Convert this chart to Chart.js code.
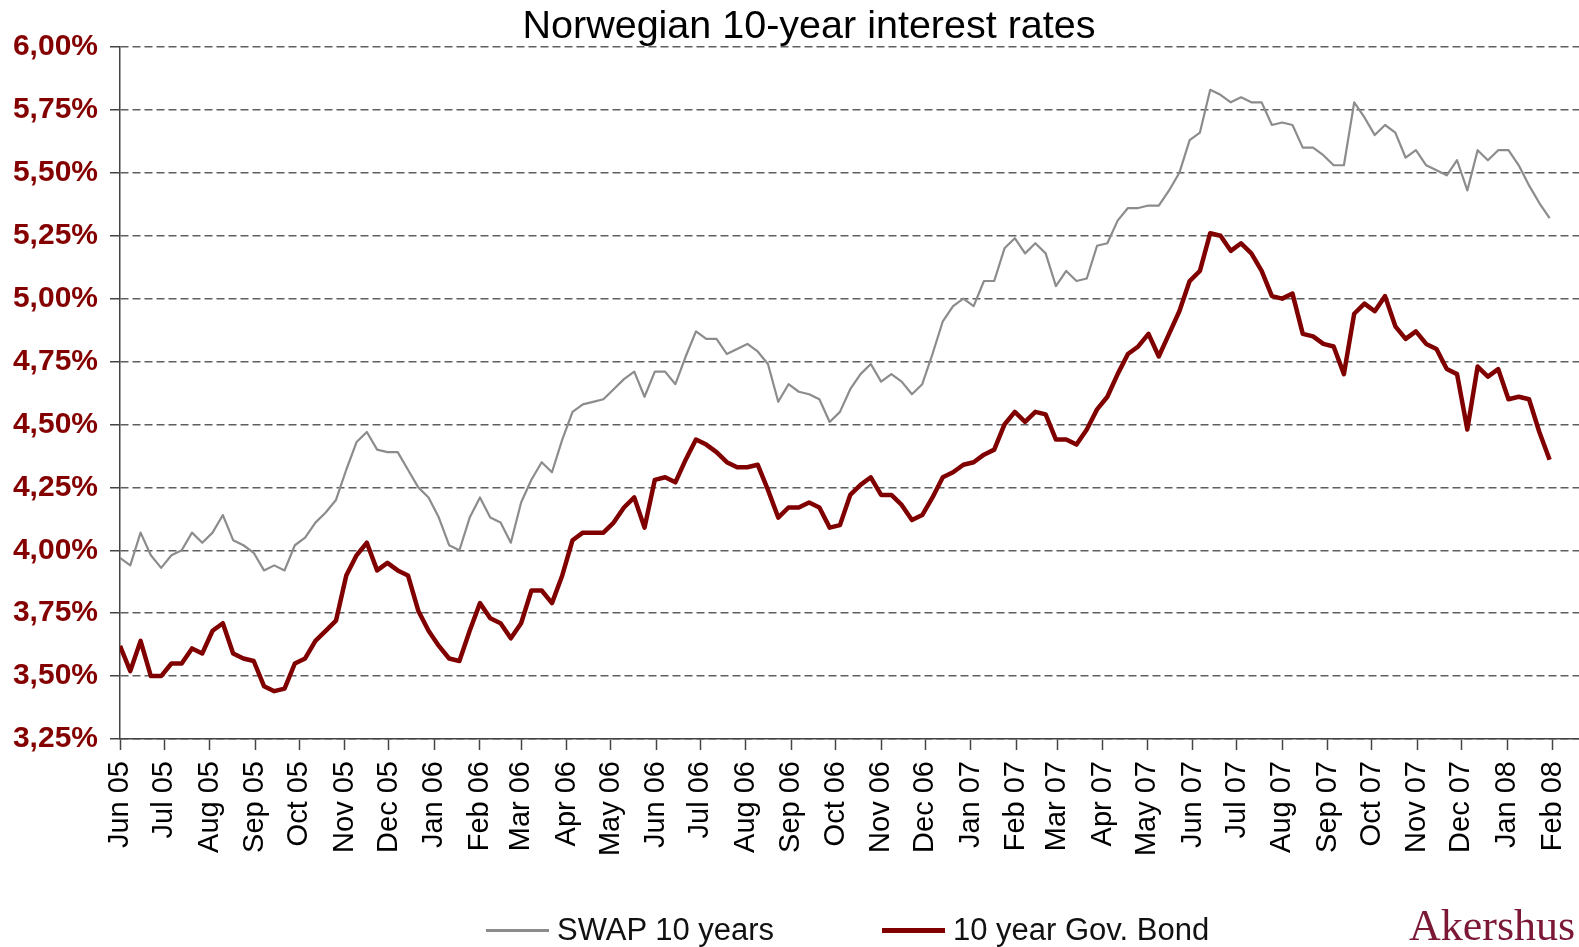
<!DOCTYPE html>
<html>
<head>
<meta charset="utf-8">
<title>Norwegian 10-year interest rates</title>
<script src="https://cdn.jsdelivr.net/npm/chart.js@4.4.1/dist/chart.umd.min.js"></script>
<style>
  body { margin: 0; background: #fff; font-family: 'Liberation Sans', Arial, sans-serif; }
  #wrap { position: relative; width: 1579px; height: 947px; overflow: hidden; }
  #chartBox { position: absolute; left: 0; top: 0; width: 1579px; height: 947px; }
  #title { position: absolute; top: 2px; left: 0; width: 1618px; text-align: center; font-size: 39.5px; color: #000; white-space: nowrap; }
  .leg { position: absolute; top: 912px; display: flex; align-items: center; font-size: 31px; color: #111; white-space: nowrap; }
  .leg .swatch { display: inline-block; width: 63px; margin-right: 8px; }
  #brand { position: absolute; left: 1409px; top: 900px; font-family: 'Liberation Serif', 'Times New Roman', serif; font-size: 44px; color: #7a1836; white-space: nowrap; }
</style>
</head>
<body>
<div id="wrap">
  <div id="chartBox"><canvas id="ratesChart"></canvas></div>
  <div id="title">Norwegian 10-year interest rates</div>
  <div class="leg" style="left:486px"><span class="swatch" style="height:3px;background:#8c8c8c"></span>SWAP 10 years</div>
  <div class="leg" style="left:882px"><span class="swatch" style="height:5px;background:#800000"></span>10 year Gov. Bond</div>
  <div id="brand">Akershus</div>
</div>
<script>
// ======================
// Dados (semanal, a partir de 1 jun 2005)
// ======================
const startDate = Date.UTC(2005, 5, 1);
const stepDays = 7;

const monthLabels = [
  'Jun 05', 'Jul 05', 'Aug 05', 'Sep 05', 'Oct 05', 'Nov 05', 'Dec 05',
  'Jan 06', 'Feb 06', 'Mar 06', 'Apr 06', 'May 06', 'Jun 06', 'Jul 06', 'Aug 06',
  'Sep 06', 'Oct 06', 'Nov 06', 'Dec 06',
  'Jan 07', 'Feb 07', 'Mar 07', 'Apr 07', 'May 07', 'Jun 07', 'Jul 07', 'Aug 07',
  'Sep 07', 'Oct 07', 'Nov 07', 'Dec 07',
  'Jan 08', 'Feb 08'
];

const swapRates = [
  3.97, 3.94, 4.07, 3.98, 3.93, 3.98, 4.00, 4.07, 4.03, 4.07, 4.14, 4.04, 4.02, 3.99, 3.92, 3.94, 3.92, 4.02, 4.05, 4.11, 4.15, 4.20, 4.32, 4.43,
  4.47, 4.40, 4.39, 4.39, 4.32, 4.25, 4.21, 4.13, 4.02, 4.00, 4.13, 4.21, 4.13, 4.11, 4.03, 4.19, 4.28, 4.35, 4.31, 4.44, 4.55, 4.58, 4.59,
  4.60, 4.64, 4.68, 4.71, 4.61, 4.71, 4.71, 4.66, 4.77, 4.87, 4.84, 4.84, 4.78, 4.80, 4.82, 4.79, 4.74, 4.59, 4.66, 4.63, 4.62, 4.60, 4.51, 4.55,
  4.64, 4.70, 4.74, 4.67, 4.70, 4.67, 4.62, 4.66, 4.78, 4.91, 4.97, 5.00, 4.97, 5.07, 5.07, 5.20, 5.24, 5.18, 5.22, 5.18, 5.05, 5.11, 5.07,
  5.08, 5.21, 5.22, 5.31, 5.36, 5.36, 5.37, 5.37, 5.43, 5.50, 5.63, 5.66, 5.83, 5.81, 5.78, 5.80, 5.78, 5.78, 5.69, 5.70, 5.69, 5.60, 5.60,
  5.57, 5.53, 5.53, 5.78, 5.72, 5.65, 5.69, 5.66, 5.56, 5.59, 5.53, 5.51, 5.49, 5.55, 5.43, 5.59, 5.55, 5.59, 5.59, 5.53, 5.45, 5.38, 5.32
];

const bondRates = [
  3.62, 3.52, 3.64, 3.50, 3.50, 3.55, 3.55, 3.61, 3.59, 3.68, 3.71, 3.59, 3.57, 3.56, 3.46, 3.44, 3.45, 3.55, 3.57, 3.64, 3.68, 3.72, 3.90, 3.98,
  4.03, 3.92, 3.95, 3.92, 3.90, 3.76, 3.68, 3.62, 3.57, 3.56, 3.68, 3.79, 3.73, 3.71, 3.65, 3.71, 3.84, 3.84, 3.79, 3.90, 4.04, 4.07, 4.07,
  4.07, 4.11, 4.17, 4.21, 4.09, 4.28, 4.29, 4.27, 4.36, 4.44, 4.42, 4.39, 4.35, 4.33, 4.33, 4.34, 4.24, 4.13, 4.17, 4.17, 4.19, 4.17, 4.09, 4.10,
  4.22, 4.26, 4.29, 4.22, 4.22, 4.18, 4.12, 4.14, 4.21, 4.29, 4.31, 4.34, 4.35, 4.38, 4.40, 4.50, 4.55, 4.51, 4.55, 4.54, 4.44, 4.44, 4.42,
  4.48, 4.56, 4.61, 4.70, 4.78, 4.81, 4.86, 4.77, 4.86, 4.95, 5.07, 5.11, 5.26, 5.25, 5.19, 5.22, 5.18, 5.11, 5.01, 5.00, 5.02, 4.86, 4.85,
  4.82, 4.81, 4.70, 4.94, 4.98, 4.95, 5.01, 4.89, 4.84, 4.87, 4.82, 4.80, 4.72, 4.70, 4.48, 4.73, 4.69, 4.72, 4.60, 4.61, 4.60, 4.47, 4.36
];

// dias desde o início para cada rótulo de mês
const monthDays = monthLabels.map((_, i) => (Date.UTC(2005, 5 + i, 1) - startDate) / 86400000);
const toPoints = arr => arr.map((v, i) => ({ x: i * stepDays, y: v }));

Chart.defaults.font.family = "'Liberation Sans', Arial, sans-serif";

// ======================
// Gráfico
// ======================
const ctx = document.getElementById('ratesChart').getContext('2d');
const ratesChart = new Chart(ctx, {
  type: 'line',
  data: {
    datasets: [
      {
        label: 'SWAP 10 years',
        data: toPoints(swapRates),
        borderColor: '#8c8c8c',
        borderWidth: 2.2,
        pointRadius: 0,
        tension: 0,
        borderJoinStyle: 'round'
      },
      {
        label: '10 year Gov. Bond',
        data: toPoints(bondRates),
        borderColor: '#800000',
        borderWidth: 4.5,
        pointRadius: 0,
        tension: 0,
        borderJoinStyle: 'round'
      }
    ]
  },
  options: {
    responsive: true,
    maintainAspectRatio: false,
    animation: false,
    layout: { padding: { top: 47, right: 0, bottom: 88, left: 0 } },
    plugins: {
      legend: { display: false },
      title: { display: false },
      tooltip: { enabled: false }
    },
    scales: {
      x: {
        type: 'linear',
        min: 0,
        max: 993,
        afterBuildTicks: scale => { scale.ticks = monthDays.map(d => ({ value: d })); },
        afterFit: scale => { scale.height = 120; scale.paddingLeft = 0; scale.paddingRight = 0; },
        grid: { drawOnChartArea: false, drawTicks: true, tickLength: 11, tickColor: '#444', tickWidth: 1.5 },
        border: { color: '#444', width: 1.5 },
        ticks: {
          autoSkip: false,
          minRotation: 90,
          maxRotation: 90,
          padding: 11,
          color: '#000',
          font: { size: 29 },
          callback: (value, index) => monthLabels[index]
        }
      },
      y: {
        min: 3.25,
        max: 6.0,
        afterFit: scale => { scale.width = 120; },
        grid: { color: '#5f5f5f', lineWidth: 1.5, drawTicks: true, tickLength: 10, tickColor: '#444', tickWidth: 1.5 },
        border: { color: '#444', width: 1.5, dash: [8, 4] },
        ticks: {
          stepSize: 0.25,
          padding: 12,
          color: '#840000',
          font: { size: 30, weight: 'bold' },
          callback: value => value.toFixed(2).replace('.', ',') + '%'
        }
      }
    }
  }
});
</script>
</body>
</html>
